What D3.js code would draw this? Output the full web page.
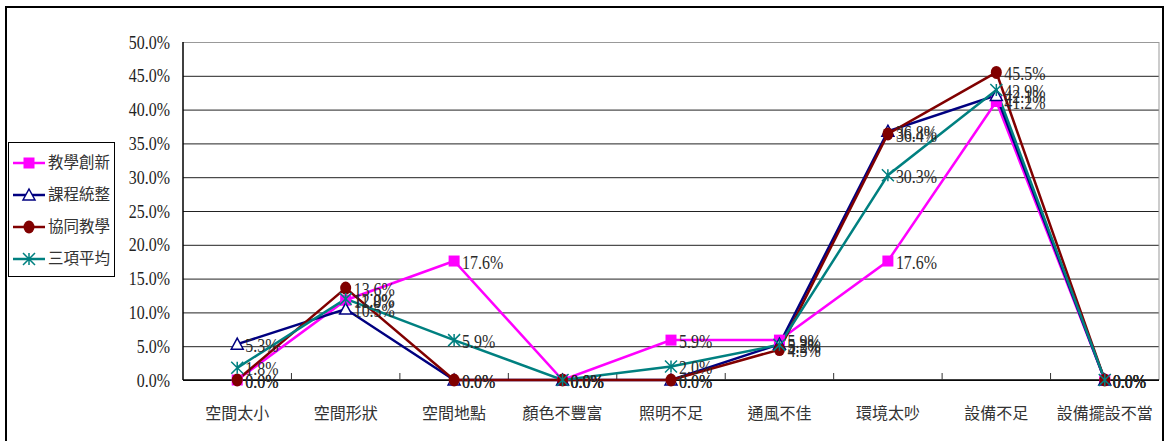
<!DOCTYPE html>
<html><head><meta charset="utf-8">
<script src="https://cdn.jsdelivr.net/npm/d3@7"></script>
<style>body{margin:0;background:#fff;} svg{display:block;}</style>
</head><body>
<svg id="c" width="1164" height="441"></svg>
<script>
const categories = ["空間太小","空間形狀","空間地點","顏色不豐富","照明不足","通風不佳","環境太吵","設備不足","設備擺設不當"];
const seriesNames = ["教學創新","課程統整","協同教學","三項平均"];
const teachInnov = [0.0, 11.8, 17.6, 0.0, 5.9, 5.9, 17.6, 41.2, 0.0];
const curricInteg = [5.3, 10.5, 0.0, 0.0, 0.0, 5.3, 36.8, 42.1, 0.0];
const coTeaching = [0.0, 13.6, 0.0, 0.0, 0.0, 4.5, 36.4, 45.5, 0.0];
const average3 = [1.8, 12.0, 5.9, 0.0, 2.0, 5.2, 30.3, 42.9, 0.0];
const yTicks = [0,5,10,15,20,25,30,35,40,45,50];

const colors = ["#FF00FF","#000080","#800000","#008080"];
const markers = ["square","triangle","circle","asterisk"];
const seriesData = [teachInnov, curricInteg, coTeaching, average3];

const svg = d3.select("#c");
const L = 183, R = 1159, T = 42, B = 380;
const x = d3.scaleBand().domain(categories).range([L, R]).padding(0);
const y = d3.scaleLinear().domain([0, 50]).range([B, T]);
const px = c => x(c) + x.bandwidth()/2;

const numFont = "'Liberation Serif','Times New Roman',serif";
const cjkFont = "'Noto Sans CJK TC','Noto Sans CJK SC',sans-serif";
const SX = 0.84;

// outer frame
svg.append("rect").attr("x",6).attr("y",7).attr("width",1157).attr("height",440)
  .attr("fill","none").attr("stroke","#000").attr("stroke-width",2);

// gridlines
const gAxisY = svg.append("g").attr("transform",`translate(${L},0)`)
  .call(d3.axisLeft(y).tickValues(yTicks).tickSize(-(R-L)).tickFormat(""));
gAxisY.select(".domain").remove();
gAxisY.selectAll(".tick line").attr("stroke", d => d===50 ? "#999" : "#222").attr("stroke-width",1);

// plot border right
svg.append("line").attr("x1",R).attr("x2",R).attr("y1",T).attr("y2",B).attr("stroke","#999");

// y tick labels
svg.append("g").selectAll("text").data(yTicks).join("text")
  .attr("transform", d => `translate(170,${y(d)}) scale(${SX},1)`)
  .attr("text-anchor","end").attr("dy","0.35em")
  .attr("font-family",numFont).attr("font-size",19).attr("fill","#222")
  .text(d => d3.format(".1f")(d)+"%");

// axes lines
svg.append("line").attr("x1",L).attr("x2",L).attr("y1",T).attr("y2",B).attr("stroke","#000").attr("stroke-width",1.5);
svg.append("line").attr("x1",L).attr("x2",R).attr("y1",B).attr("y2",B).attr("stroke","#000").attr("stroke-width",1.5);
// x ticks at boundaries (inward)
svg.append("g").selectAll("line").data(categories.slice(1)).join("line")
  .attr("x1", c => x(c)).attr("x2", c => x(c)).attr("y1",B).attr("y2",B-7)
  .attr("stroke","#333").attr("stroke-width",1);

// category labels
svg.append("g").selectAll("text").data(categories).join("text")
  .attr("x", c => px(c)).attr("y", 413).attr("text-anchor","middle").attr("dy","0.35em")
  .attr("font-family",cjkFont).attr("font-size",16).attr("fill","#333")
  .text(c => c);

function drawMarker(g, type, color, cx, cy) {
  if (type === "square") {
    g.append("rect").attr("x",cx-5.5).attr("y",cy-5.5).attr("width",11).attr("height",11).attr("fill",color);
  } else if (type === "triangle") {
    g.append("path").attr("d",`M${cx},${cy-6}L${cx+6},${cy+5}L${cx-6},${cy+5}Z`)
      .attr("fill","#fff").attr("stroke",color).attr("stroke-width",1.5);
  } else if (type === "circle") {
    g.append("ellipse").attr("cx",cx).attr("cy",cy).attr("rx",5.5).attr("ry",6.5).attr("fill",color);
  } else {
    const s = 6;
    g.append("path").attr("d",`M${cx},${cy-s}V${cy+s}M${cx-s},${cy-s}L${cx+s},${cy+s}M${cx+s},${cy-s}L${cx-s},${cy+s}`)
      .attr("stroke",color).attr("stroke-width",1.5).attr("fill","none");
  }
}

const line = d3.line().x((d,i) => px(categories[i])).y(d => y(d));
seriesData.forEach((vals, si) => {
  svg.append("path").datum(vals).attr("d", line).attr("fill","none")
    .attr("stroke", colors[si]).attr("stroke-width",2.5);
});
seriesData.forEach((vals, si) => {
  const g = svg.append("g");
  vals.forEach((v,i) => drawMarker(g, markers[si], colors[si], px(categories[i]), y(v)));
});
seriesData.forEach((vals, si) => {
  svg.append("g").selectAll("text").data(vals).join("text")
    .attr("transform", (v,i) => `translate(${px(categories[i])+8},${y(v)+1}) scale(${SX},1)`)
    .attr("dy","0.35em").attr("font-family",numFont).attr("font-size",19).attr("fill","#2a2a2a")
    .text(v => d3.format(".1f")(v)+"%");
});

// legend
const lg = svg.append("g");
lg.append("rect").attr("x",8.5).attr("y",142.5).attr("width",106).attr("height",134)
  .attr("fill","#fff").attr("stroke","#000").attr("stroke-width",1);
seriesNames.forEach((n, i) => {
  const cy = 163 + i*32;
  lg.append("line").attr("x1",13).attr("x2",45).attr("y1",cy).attr("y2",cy).attr("stroke",colors[i]).attr("stroke-width",2.5);
  drawMarker(lg, markers[i], colors[i], 29, cy);
  lg.append("text").attr("x",48).attr("y",cy).attr("dy","0.35em")
    .attr("font-family",cjkFont).attr("font-size",15.5).attr("fill","#333").text(n);
});
</script>
</body></html>
